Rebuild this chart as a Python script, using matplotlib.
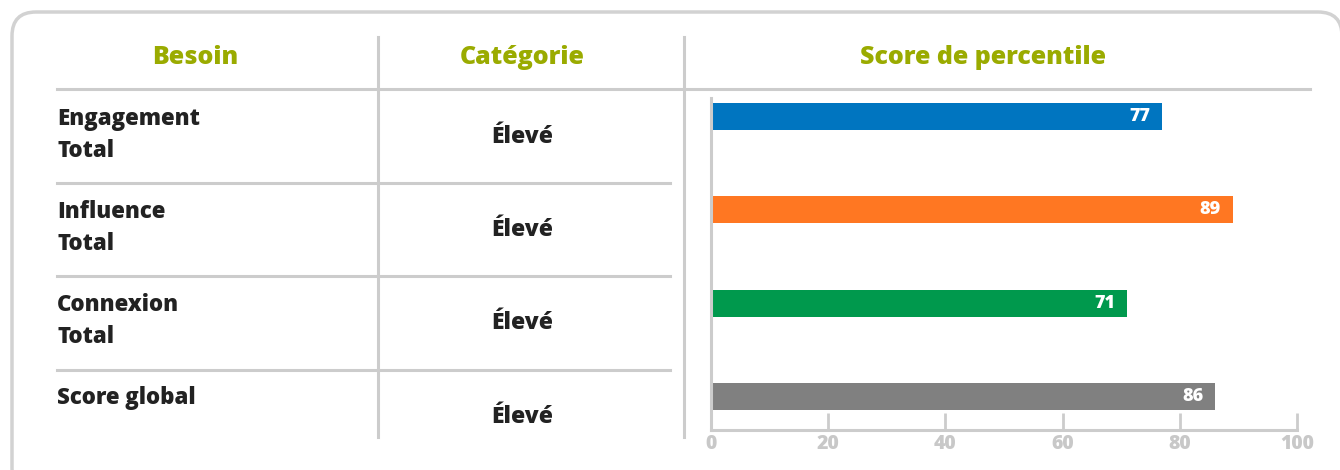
import numpy as np
import matplotlib
matplotlib.use("Agg")
from matplotlib import pyplot as plt
from matplotlib.patches import FancyBboxPatch

# Table content
headers = ["Besoin", "Catégorie", "Score de percentile"]
needs = [["Engagement", "Total"], ["Influence", "Total"], ["Connexion", "Total"], ["Score global"]]
categories = ["Élevé", "Élevé", "Élevé", "Élevé"]
scores = [77, 89, 71, 86]
bar_colors = ["#0075c0", "#ff7722", "#00994d", "#808080"]
ticks = [0, 20, 40, 60, 80, 100]

FONT = "Open Sans"
GREEN = "#9aab00"
LINE = "#cccccc"
DARK = "#222222"

fig = plt.figure(figsize=(13.4, 4.7), dpi=100)

# background axes in pixel units for the table layout
bg = fig.add_axes([0, 0, 1, 1])
bg.set_xlim(0, 1340)
bg.set_ylim(470, 0)
bg.axis("off")

# card outline, right and bottom edges fall outside the picture
card = FancyBboxPatch((12, 12), 1330, 480, boxstyle="round,pad=0,rounding_size=24",
                      facecolor="white", edgecolor="#d2d2d2", linewidth=2.5, zorder=0)
bg.add_patch(card)

# headers
head_x = [195, 522, 983]
for x, h in zip(head_x, headers):
    bg.text(x, 64, h, ha="center", va="baseline", color=GREEN, fontsize=18,
            fontweight="heavy", family=FONT)

# grid lines
bg.plot([57, 1310], [89, 89], color=LINE, lw=2.2)
for y in [183, 276, 370]:
    bg.plot([57, 670], [y, y], color=LINE, lw=2.2)
for x in [378, 684]:
    bg.plot([x, x], [37, 437], color=LINE, lw=2.2)

# rows
row_base = [125, 218, 311, 404]
cat_base = [143, 236, 329, 423]
for yb, yc, lines, c in zip(row_base, cat_base, needs, categories):
    for k, line in enumerate(lines):
        bg.text(57, yb + 32 * k, line, ha="left", va="baseline", color=DARK,
                fontsize=16, fontweight="heavy", family=FONT)
    bg.text(522, yc, c, ha="center", va="baseline", color=DARK, fontsize=16.5,
            fontweight="heavy", family=FONT)

# bar chart
ax = fig.add_axes([711 / 1340, 1 - 430 / 470, 586 / 1340, 332 / 470])
ypos = np.arange(len(scores))
ax.barh(ypos, scores, height=0.29, color=bar_colors, zorder=2)
for y, v in zip(ypos, scores):
    ax.text(v - 2, y, str(v), ha="right", va="center", color="white",
            fontsize=13, fontweight="heavy", family=FONT)
ax.set_xlim(0, 100)
ax.set_ylim(3 + 0.359, -0.198)
ax.set_yticks([])
ax.set_xticks(ticks)
ax.set_xticklabels([str(t) for t in ticks])
ax.tick_params(axis="x", direction="in", length=12, width=2, color=LINE,
               labelcolor="#c8c8c8", labelsize=14, pad=3)
for lab in ax.get_xticklabels():
    lab.set_fontweight("heavy")
    lab.set_family(FONT)
for s in ["top", "right"]:
    ax.spines[s].set_visible(False)
for s in ["left", "bottom"]:
    ax.spines[s].set_color(LINE)
    ax.spines[s].set_linewidth(2.2)
ax.patch.set_alpha(0)

fig.savefig("out.png", dpi=100)
